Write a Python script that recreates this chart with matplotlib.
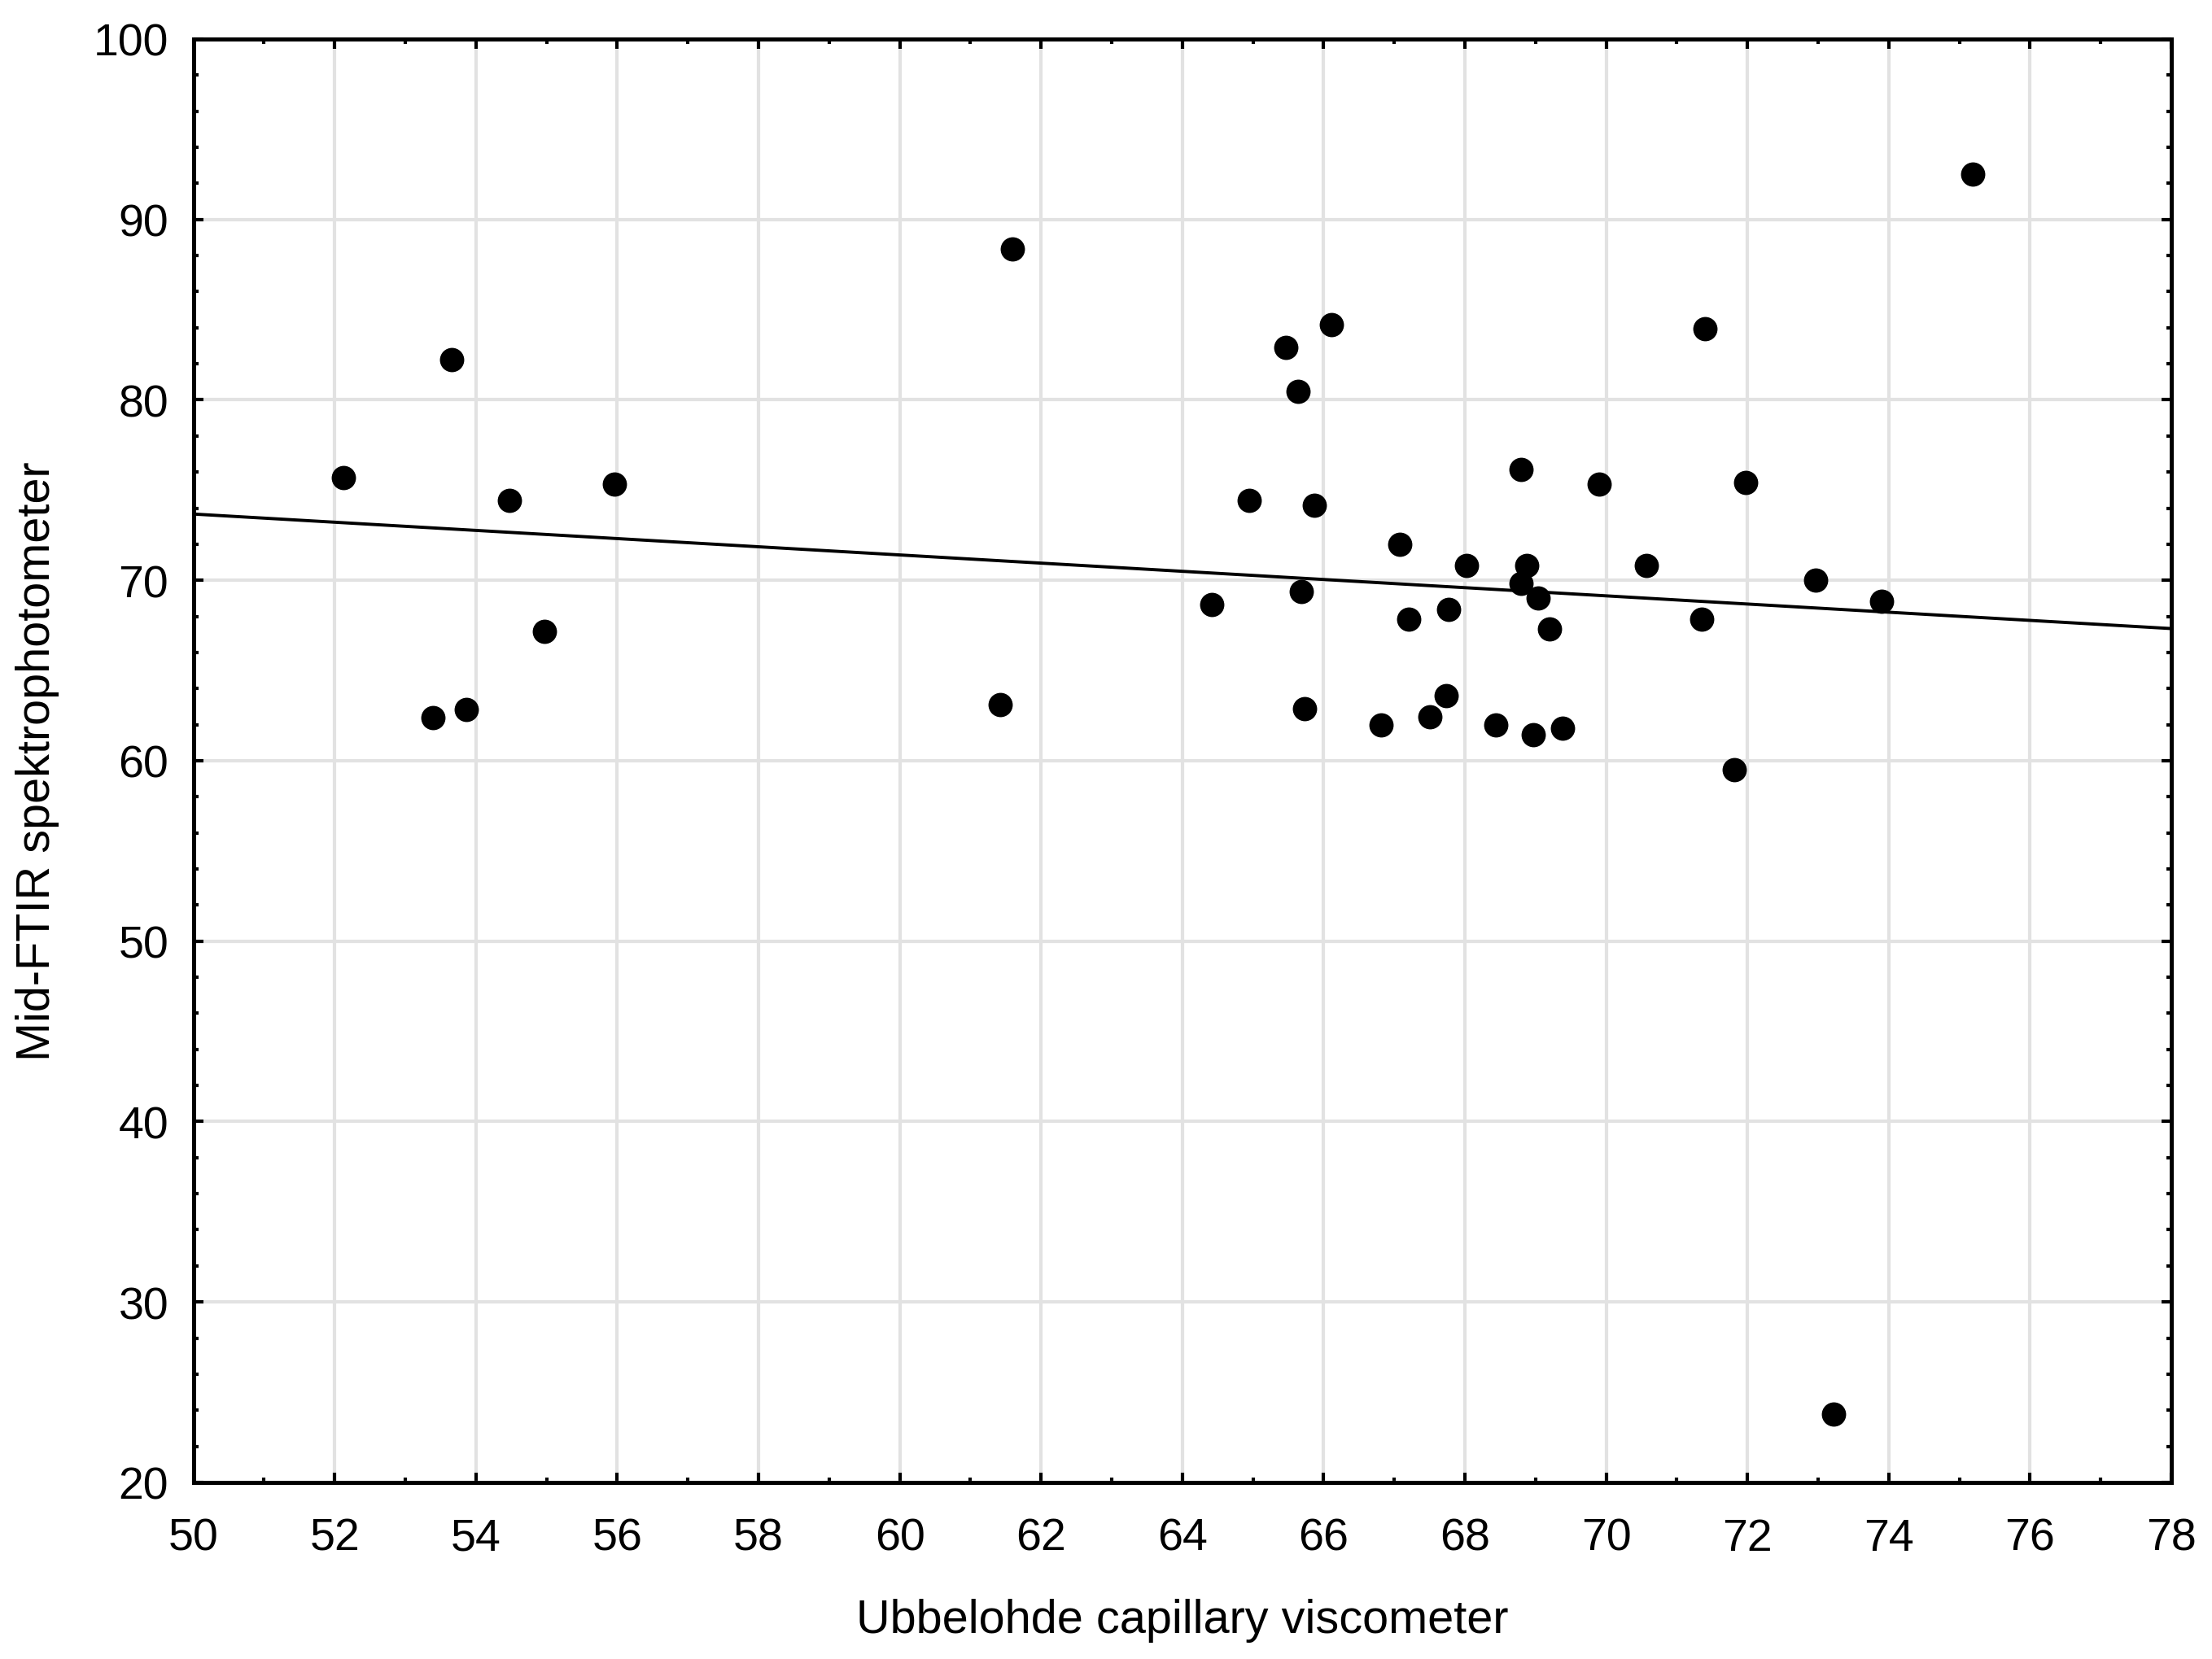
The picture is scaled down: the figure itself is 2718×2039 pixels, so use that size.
import numpy as np
import matplotlib
matplotlib.use('Agg')
import matplotlib.pyplot as plt
from matplotlib.ticker import MultipleLocator

# odczytane wartosci punktow
ubbelohde = [52.12, 53.39, 53.66, 53.87, 54.47, 54.97, 55.96,
             61.42, 61.60,
             64.42, 64.95, 65.47, 65.64, 65.69, 65.73, 65.87, 66.11,
             66.81, 67.08, 67.21, 67.50, 67.73, 67.77, 68.02, 68.44,
             68.79, 68.79, 68.88, 68.97, 69.04, 69.20, 69.38, 69.90,
             70.57, 71.35, 71.40, 71.81, 71.97, 72.96, 73.22, 73.90, 75.19]
ftir = [75.68, 62.38, 82.21, 62.83, 74.41, 67.17, 75.32,
        63.13, 88.36,
        68.67, 74.43, 82.90, 80.47, 69.38, 62.90, 74.16, 84.17,
        61.98, 72.00, 67.84, 62.45, 63.60, 68.40, 70.83, 61.98,
        76.12, 69.83, 70.84, 61.45, 69.02, 67.31, 61.81, 75.33,
        70.83, 67.85, 83.96, 59.50, 75.43, 70.01, 23.77, 68.84, 92.50]

x_limits = [50, 78]
y_limits = [20, 100]

plt.rcParams['font.family'] = ['Liberation Sans', 'DejaVu Sans']

fig = plt.figure(figsize=(27.18, 20.40), dpi=100)
ax = fig.add_axes([0.0874, 0.1064, 0.8942, 0.8696])

# linia regresji
slope, intercept = np.polyfit(ubbelohde, ftir, 1)
xs = np.array(x_limits, dtype=float)
ax.plot(xs, intercept + slope * xs, color='black', linewidth=2.8, zorder=2)

ax.plot(ubbelohde, ftir, 'o', color='black', markersize=21.5,
        markeredgewidth=0, zorder=3)

ax.set_xlim(x_limits)
ax.set_ylim(y_limits)
ax.xaxis.set_major_locator(MultipleLocator(2))
ax.xaxis.set_minor_locator(MultipleLocator(1))
ax.yaxis.set_major_locator(MultipleLocator(10))
ax.yaxis.set_minor_locator(MultipleLocator(2))

ax.grid(True, which='major', color='#e2e2e2', linewidth=3, zorder=0)
ax.set_axisbelow(True)

for s in ax.spines.values():
    s.set_linewidth(3.6)

ax.tick_params(which='both', direction='in', top=True, right=True,
               width=3, colors='black')
ax.tick_params(which='major', length=8.5, labelsize=40)
ax.tick_params(axis='x', which='major', pad=31)
ax.tick_params(axis='y', which='major', pad=22)
ax.tick_params(which='minor', length=4.5)

ax.set_xlabel('Ubbelohde capillary viscometer', fontsize=41.5)
ax.set_ylabel('Mid-FTIR spektrophotometer', fontsize=41.5)
ax.xaxis.set_label_coords(0.5, -0.080)
ax.yaxis.set_label_coords(-0.0677, 0.5)

fig.savefig('out.png', dpi=100)
